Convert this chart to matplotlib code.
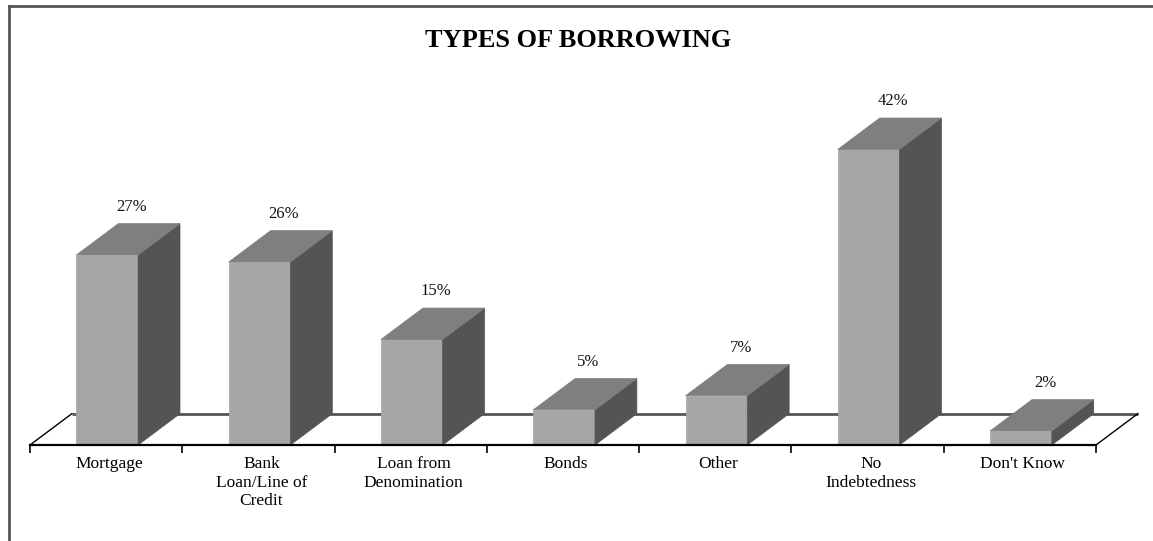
import matplotlib
matplotlib.use('Agg')
import matplotlib.pyplot as plt
from matplotlib.patches import Polygon
from matplotlib.lines import Line2D

plt.rcParams['font.family'] = ['Liberation Serif', 'DejaVu Serif']

categories = ['Mortgage', 'Bank\nLoan/Line of\nCredit', 'Loan from\nDenomination',
              'Bonds', 'Other', 'No\nIndebtedness', "Don't Know"]
values = [27, 26, 15, 5, 7, 42, 2]
value_labels = ['27%', '26%', '15%', '5%', '7%', '42%', '2%']

# 3D look
FRONT = '#a6a6a6'
SIDE = '#545454'
TOP = '#7f7f7f'
DX = 0.275   # depth offset in category units
DY = 4.45    # depth offset in percent units
BAR_LEFT = 0.305
BAR_WIDTH = 0.405

W, H = 1153, 541
fig = plt.figure(figsize=(W / 100, H / 100), dpi=100)
ax = fig.add_axes([30 / W, 96 / H, 1066 / W, 440 / H])
ax.set_xlim(0, len(categories))
ax.set_ylim(0, 440 / 7.04)

# floor
n = len(categories)
ax.plot([DX, n + DX], [DY, DY], color='#555555', lw=2, solid_capstyle='butt', clip_on=False)
ax.plot([0, DX], [0, DY], color='black', lw=1, clip_on=False)
ax.plot([n, n + DX], [0, DY], color='black', lw=1, clip_on=False)

for i, (v, lab) in enumerate(zip(values, value_labels)):
    x0 = i + BAR_LEFT
    x1 = x0 + BAR_WIDTH
    front = [(x0, 0), (x1, 0), (x1, v), (x0, v)]
    side = [(x1, 0), (x1 + DX, DY), (x1 + DX, v + DY), (x1, v)]
    top = [(x0, v), (x1, v), (x1 + DX, v + DY), (x0 + DX, v + DY)]
    for pts, c in [(front, FRONT), (side, SIDE), (top, TOP)]:
        ax.add_patch(Polygon(pts, closed=True, facecolor=c, edgecolor=c,
                             lw=0.5, clip_on=False, zorder=3))
    ax.text((x0 + x1) / 2 + DX * 0.58, v + DY + 1.8, lab, ha='center', va='baseline',
            fontsize=12, color='#111111', zorder=4)

# axis: front edge of floor with ticks between categories
for s in ['top', 'left', 'right']:
    ax.spines[s].set_visible(False)
ax.spines['bottom'].set_linewidth(1.6)
ax.spines['bottom'].set_zorder(5)
ax.set_xticks(range(n + 1))
ax.set_xticklabels([])
ax.tick_params(axis='x', which='major', direction='out', length=6, width=1.2)
ax.set_xticks([i + 0.52 for i in range(n)], minor=True)
ax.set_xticklabels(categories, minor=True, fontsize=12.5, linespacing=1.22)
ax.tick_params(axis='x', which='minor', length=0, pad=8)
ax.set_yticks([])
ax.patch.set_alpha(0)

fig.text(578 / W, 1 - 47 / H, 'TYPES OF BORROWING', ha='center', va='baseline',
         fontsize=19, fontweight='bold')

# chart area frame (only top/left visible)
fig.add_artist(Line2D([8.5 / W, 1], [1 - 5.5 / H, 1 - 5.5 / H], color='#555555', lw=2,
                      transform=fig.transFigure))
fig.add_artist(Line2D([8.5 / W, 8.5 / W], [0, 1 - 5.5 / H], color='#555555', lw=2,
                      transform=fig.transFigure))

fig.savefig('out.png', dpi=100, facecolor='white')
